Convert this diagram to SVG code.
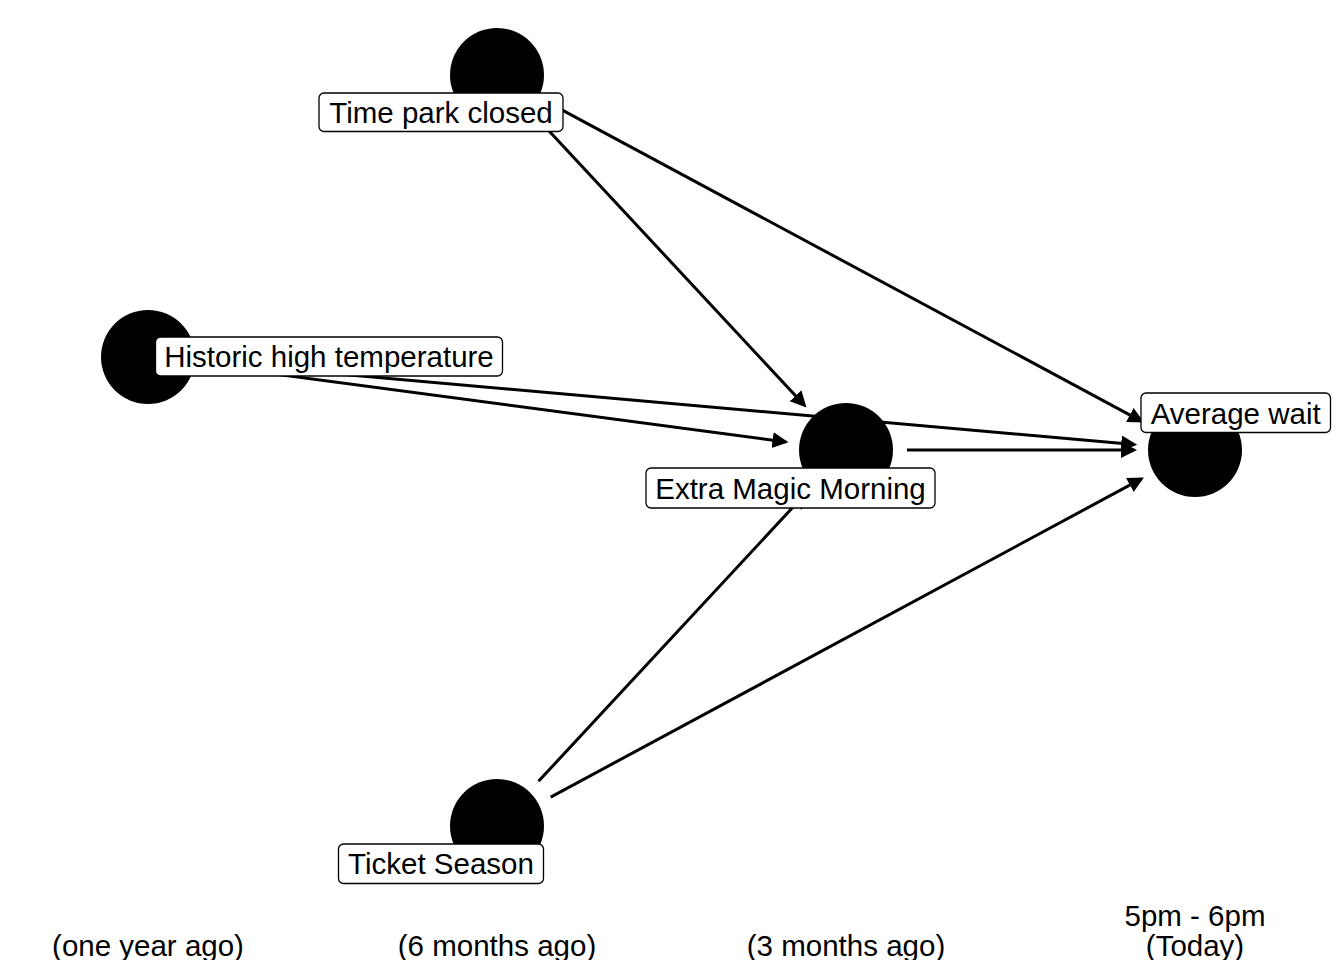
<svg xmlns="http://www.w3.org/2000/svg" width="1344" height="960" viewBox="0 0 1344 960">
<style>
.edge{stroke:#000;stroke-width:3;fill:none;marker-end:url(#arr)}
.node{fill:#000}
.lbl{fill:#fff;stroke:#000;stroke-width:1.3}
.txt{font-family:"Liberation Sans",Arial,sans-serif;font-size:29.5px;fill:#000;text-anchor:middle}
.axis{font-family:"Liberation Sans",Arial,sans-serif;font-size:29.5px;fill:#000;text-anchor:middle}
</style>
<defs>
<marker id="arr" markerUnits="userSpaceOnUse" markerWidth="18" markerHeight="18" refX="13" refY="8" orient="auto" viewBox="0 0 18 18">
<path d="M0,0 L16,8 L0,16 z" fill="#000"/>
</marker>
</defs>
<rect width="1344" height="960" fill="#fff"/>
<g id="connectors">
<line class="edge" x1="538.6" y1="119.7" x2="804.4" y2="405.3"/>
<line class="edge" x1="550.7" y1="103.9" x2="1141.3" y2="421.1"/>
<line class="edge" x1="208.5" y1="365.1" x2="785.5" y2="441.9"/>
<line class="edge" x1="208.8" y1="362.4" x2="1134.2" y2="444.6"/>
<line class="edge" x1="907" y1="450" x2="1134" y2="450"/>
<line class="edge" x1="538.5" y1="781.3" x2="804.5" y2="494.7"/>
<line class="edge" x1="550.7" y1="797.1" x2="1141.3" y2="478.9"/>
</g>
<g id="node-circles">
<circle class="node" cx="497" cy="75" r="47"/>
<circle class="node" cx="148" cy="357" r="47"/>
<circle class="node" cx="846" cy="450" r="47"/>
<circle class="node" cx="1195" cy="450" r="47"/>
<circle class="node" cx="497" cy="826" r="47"/>
</g>
<g id="node-time-park-closed">
<rect class="lbl" x="319" y="93" width="244" height="38.5" rx="5"/>
<text class="txt" x="441" y="123">Time park closed</text>
</g>
<g id="node-historic-high-temperature">
<rect class="lbl" x="155.5" y="337" width="347" height="39" rx="5"/>
<text class="txt" x="329" y="366.5">Historic high temperature</text>
</g>
<g id="node-extra-magic-morning">
<rect class="lbl" x="646" y="468" width="289" height="40" rx="5"/>
<text class="txt" x="790.5" y="498.5">Extra Magic Morning</text>
</g>
<g id="node-average-wait">
<rect class="lbl" x="1141" y="393" width="189.5" height="39.5" rx="5"/>
<text class="txt" x="1235.7" y="423.5">Average wait</text>
</g>
<g id="node-ticket-season">
<rect class="lbl" x="338.5" y="844" width="205" height="39.5" rx="5"/>
<text class="txt" x="441" y="874">Ticket Season</text>
</g>
<g id="axis-labels">
<text class="axis" x="148" y="955.5">(one year ago)</text>
<text class="axis" x="497" y="955.5">(6 months ago)</text>
<text class="axis" x="846" y="955.5">(3 months ago)</text>
<text class="axis" x="1195" y="925.5">5pm - 6pm</text>
<text class="axis" x="1195" y="955.5">(Today)</text>
</g>
</svg>
